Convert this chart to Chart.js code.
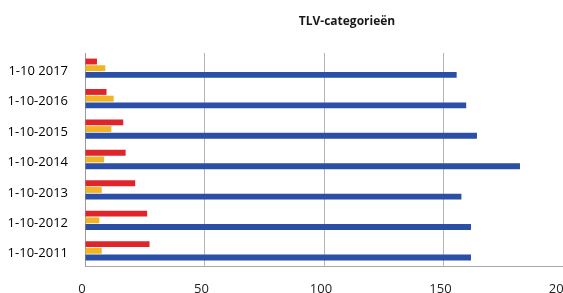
<!DOCTYPE html>
<html>
<head>
<meta charset="utf-8">
<script src="https://cdn.jsdelivr.net/npm/chart.js@4"></script>
<style>
html,body{margin:0;padding:0;background:#fff;}
#c{display:block;}
</style>
</head>
<body>
<canvas id="c" width="563" height="293"></canvas>
<script>
const categories = ['1-10-2011','1-10-2012','1-10-2013','1-10-2014','1-10-2015','1-10-2016','1-10 2017'];
const redValues = [27, 26, 21, 17, 16, 9, 5];
const orangeValues = [7, 6, 7, 8, 11, 12, 8.5];
const blueValues = [161.5, 161.5, 157.5, 182, 164, 159.5, 155.5];
const xTicks = [0, 50, 100, 150, 200];
const titleText = 'TLV-categorieën';

const titlePlugin = {
  id: 'customTitle',
  afterDraw(chart) {
    const ctx = chart.ctx;
    ctx.save();
    ctx.font = 'bold 12px "Open Sans", sans-serif';
    ctx.fillStyle = '#1a1a1a';
    ctx.textAlign = 'center';
    ctx.textBaseline = 'middle';
    ctx.fillText(titleText, 347, 22);
    ctx.restore();
  }
};

new Chart(document.getElementById('c'), {
  type: 'bar',
  data: {
    labels: categories,
    datasets: [
      { label: 'rood', data: redValues, backgroundColor: '#e0242b' },
      { label: 'oranje', data: orangeValues, backgroundColor: '#f2b324' },
      { label: 'blauw', data: blueValues, backgroundColor: '#2b4fa6' }
    ]
  },
  options: {
    indexAxis: 'y',
    responsive: false,
    animation: false,
    layout: { padding: { top: 53, left: 0, right: 0, bottom: 0 } },
    datasets: { bar: { categoryPercentage: 0.66, barPercentage: 0.88, borderWidth: 0 } },
    plugins: { legend: { display: false }, title: { display: false }, tooltip: { enabled: false } },
    scales: {
      x: {
        min: 0, max: 200,
        afterBuildTicks: s => { s.ticks = xTicks.map(v => ({ value: v })); },
        afterFit: s => { s.height = 27; s.paddingLeft = 0; s.paddingRight = 0; },
        grid: { color: '#b5b5b5', drawTicks: false, lineWidth: 1 },
        border: { color: '#a8a8a8' },
        ticks: { padding: 15, labelOffset: -3, color: '#222', font: { family: '"Open Sans", sans-serif', size: 13 } }
      },
      y: {
        reverse: true,
        afterFit: s => { s.width = 85; },
        grid: { display: false, drawTicks: false },
        border: { display: true, color: '#9a9a9a' },
        ticks: { padding: 17, labelOffset: 3, color: '#000', font: { family: '"Open Sans", sans-serif', size: 13 } }
      }
    }
  },
  plugins: [titlePlugin]
});
</script>
</body>
</html>
